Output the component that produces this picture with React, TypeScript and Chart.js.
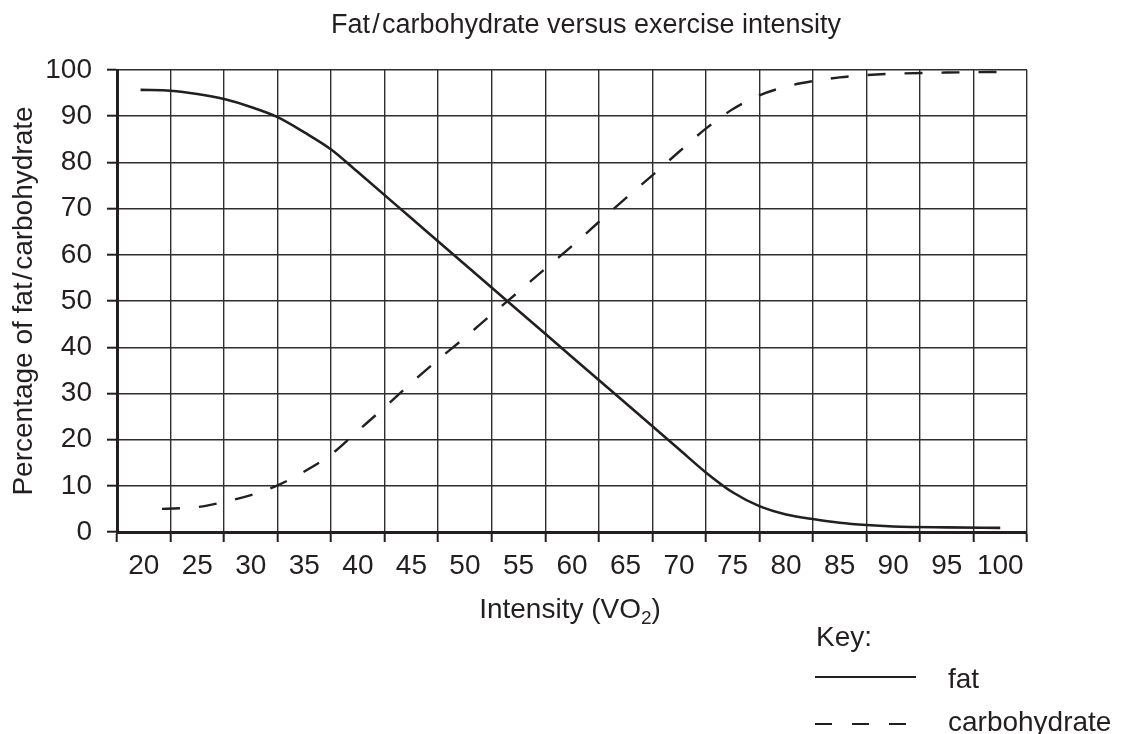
import { useEffect, useRef } from "react";
import { Chart, registerables } from "chart.js";

Chart.register(...registerables);

// ---- data ----
const xTickValues = [20, 25, 30, 35, 40, 45, 50, 55, 60, 65, 70, 75, 80, 85, 90, 95, 100];
const yTickValues = [0, 10, 20, 30, 40, 50, 60, 70, 80, 90, 100];

const fatX = [19.7, 22.5, 25, 27.5, 30, 32.5, 35, 37.5, 40, 45, 50, 55, 60, 65, 70, 72.5, 75, 77.5, 80, 82.5, 85, 87.5, 90, 95, 100];
const fatY = [95.7, 95.5, 94.8, 93.7, 92.0, 89.8, 86.5, 82.8, 77.9, 67.9, 57.9, 47.9, 37.9, 27.9, 17.9, 12.9, 8.6, 5.6, 3.8, 2.8, 2.0, 1.5, 1.2, 1.0, 0.9];

const carbX = [21.7, 25, 27.5, 30, 32.5, 35, 37.5, 40, 42.5, 45, 47.5, 50, 52.5, 55, 57.5, 60, 62.5, 65, 67.5, 70, 72.5, 75, 77.5, 80, 82.5, 85, 87.5, 90, 95, 100.5];
const carbY = [5.0, 5.4, 6.5, 8.0, 10.1, 13.1, 16.8, 21.9, 27.0, 32.3, 37.3, 42.1, 47.1, 52.0, 57.0, 61.9, 67.1, 72.2, 77.2, 82.3, 87.3, 91.5, 94.5, 96.4, 97.6, 98.4, 98.9, 99.2, 99.45, 99.6];

const seriesLabels = ["fat", "carbohydrate"];
const titleText = "Fat\u200A/\u200Acarbohydrate versus exercise intensity";
const yTitleText = "Percentage of fat\u200A/\u200Acarbohydrate";
const xTitleMain = "Intensity (VO";
const xTitleSub = "2";
const xTitleEnd = ")";
const keyText = "Key:";

const INK = "#231f20";
const GRID = "#2e2e2e";
const FONT = "'Liberation Sans', Arial, Helvetica, sans-serif";

const extrasPlugin = {
  id: "extras",
  afterDraw(chart: any) {
    const c: CanvasRenderingContext2D = chart.ctx;
    const area = chart.chartArea;
    c.save();
    c.fillStyle = INK;
    c.textBaseline = "alphabetic";

    // chart title
    c.font = `27px ${FONT}`;
    c.textAlign = "center";
    c.fillText(titleText, 586, 33);

    // x-axis title with subscript
    c.textAlign = "left";
    c.font = `28px ${FONT}`;
    const w1 = c.measureText(xTitleMain).width;
    const w3 = c.measureText(xTitleEnd).width;
    c.font = `19px ${FONT}`;
    const w2 = c.measureText(xTitleSub).width;
    const total = w1 + w2 + w3;
    const cx = (area.left + area.right) / 2 - 2;
    let x0 = cx - total / 2;
    const base = 618;
    c.font = `28px ${FONT}`;
    c.fillText(xTitleMain, x0, base);
    c.font = `19px ${FONT}`;
    c.fillText(xTitleSub, x0 + w1, base + 6);
    c.font = `28px ${FONT}`;
    c.fillText(xTitleEnd, x0 + w1 + w2, base);

    // key
    c.font = `28px ${FONT}`;
    c.fillText(keyText, 816, 646);
    const ds = chart.data.datasets;
    const rows = [
      { y: 677, textY: 688, len: 101 },
      { y: 724, textY: 731, len: 92 },
    ];
    rows.forEach((r, i) => {
      c.save();
      c.strokeStyle = ds[i].borderColor;
      c.lineWidth = 2;
      c.setLineDash(i === 1 ? [17, 20] : []);
      c.beginPath();
      c.moveTo(815, r.y);
      c.lineTo(815 + r.len, r.y);
      c.stroke();
      c.restore();
      c.fillText(seriesLabels[i], 948, r.textY);
    });
    c.restore();
  },
};

export default function App() {
  const ref = useRef<HTMLCanvasElement>(null);

  useEffect(() => {
    const canvas = ref.current;
    if (!canvas) return;
    const chart = new Chart(canvas, {
      type: "line",
      data: {
        datasets: [
          {
            label: seriesLabels[0],
            data: fatX.map((x, i) => ({ x, y: fatY[i] })),
            borderColor: INK,
            borderWidth: 2.6,
            pointRadius: 0,
            fill: false,
            cubicInterpolationMode: "monotone",
          },
          {
            label: seriesLabels[1],
            data: carbX.map((x, i) => ({ x, y: carbY[i] })),
            borderColor: INK,
            borderWidth: 2.4,
            borderDash: [18, 19],
            pointRadius: 0,
            fill: false,
            cubicInterpolationMode: "monotone",
          },
        ],
      },
      options: {
        responsive: false,
        animation: false,
        events: [],
        layout: { padding: { top: 70, right: 96, bottom: 0, left: 0 } },
        plugins: {
          legend: { display: false },
          tooltip: { enabled: false },
          title: { display: false },
        },
        scales: {
          x: {
            type: "linear",
            min: 17.5,
            max: 102.5,
            afterBuildTicks: (s: any) => {
              s.ticks = xTickValues.map((v) => ({ value: v }));
            },
            afterFit: (s: any) => {
              s.height = 202;
            },
            grid: {
              offset: true,
              color: GRID,
              lineWidth: 1.4,
              tickLength: 10,
              tickWidth: 2,
              tickColor: INK,
            },
            border: { display: true, width: 3, color: INK },
            ticks: {
              autoSkip: false,
              maxRotation: 0,
              padding: 7,
              color: INK,
              font: { family: FONT, size: 28 },
              callback: (v: any) => String(v),
            },
          },
          y: {
            type: "linear",
            min: 0,
            max: 100,
            afterBuildTicks: (s: any) => {
              s.ticks = yTickValues.map((v) => ({ value: v }));
            },
            afterFit: (s: any) => {
              s.width = 117;
            },
            grid: {
              color: GRID,
              lineWidth: 1.4,
              tickLength: 10,
              tickWidth: 2,
              tickColor: INK,
            },
            border: { display: true, width: 3, color: INK },
            ticks: {
              padding: 15,
              color: INK,
              font: { family: FONT, size: 28 },
              callback: (v: any) => String(v),
            },
            title: {
              display: true,
              text: yTitleText,
              color: INK,
              font: { family: FONT, size: 28 },
              padding: { top: 7, bottom: 0 },
            },
          },
        },
      },
      plugins: [extrasPlugin],
    } as any);
    return () => chart.destroy();
  }, []);

  return (
    <div style={{ position: "absolute", left: 0, top: 0, width: 1123, height: 734, background: "#fff" }}>
      <canvas ref={ref} width={1123} height={734} style={{ display: "block", width: 1123, height: 734 }} />
    </div>
  );
}
